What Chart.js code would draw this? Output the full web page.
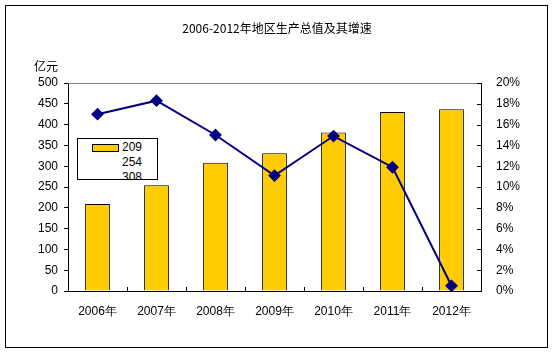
<!DOCTYPE html>
<html>
<head>
<meta charset="utf-8">
<script src="https://cdn.jsdelivr.net/npm/chart.js@4"></script>
<style>
  body { margin: 0; background: #fff; }
  #wrap { position: relative; width: 554px; height: 353px; }
  #legend {
    position: absolute; left: 77px; top: 138px; width: 79px; height: 40px;
    border: 1px solid #000; background: #fff; overflow: hidden;
    font: 12px "Liberation Sans", Arial, sans-serif; color: #000;
  }
  .row { position: absolute; left: 0; height: 15px; line-height: 15px; }
  .sw { position: absolute; left: 14px; top: 4px; width: 25px; height: 6px; background: #FFCC00; border: 1px solid #000; }
  .lb { position: absolute; left: 44px; }
</style>
</head>
<body>
<div id="wrap">
  <canvas id="grafico" width="554" height="353"></canvas>
  <div id="legend"></div>
</div>
<script>
const anos = ['2006年', '2007年', '2008年', '2009年', '2010年', '2011年', '2012年'];
const producao = [209, 254, 308, 331, 381, 430, 437];   // 亿元
const crescimento = [17.0, 18.3, 15.0, 11.1, 14.9, 11.9, 0.5]; // %

const fonte = '"Liberation Sans", Arial, sans-serif';

// legenda "quebrada" como no original: mostra os valores das barras
const legenda = document.getElementById('legend');
producao.slice(0, 3).forEach((v, i) => {
    const row = document.createElement('div');
    row.className = 'row';
    row.style.top = (i * 15 + 1) + 'px';
    row.style.width = '79px';
    row.innerHTML = (i === 0 ? '<span class="sw"></span>' : '') + '<span class="lb">' + v + '</span>';
    legenda.appendChild(row);
});

const extras = {
    id: 'extras',
    afterDraw(chart) {
        const ctx = chart.ctx;
        const a = chart.chartArea;
        ctx.save();
        // moldura externa
        ctx.strokeStyle = '#000';
        ctx.lineWidth = 1;
        ctx.strokeRect(5.5, 5.5, 542, 342);
        // linha superior cinza da área
        ctx.strokeStyle = '#808080';
        ctx.beginPath();
        ctx.moveTo(a.left, Math.round(a.top) + 0.5);
        ctx.lineTo(a.right, Math.round(a.top) + 0.5);
        ctx.stroke();
        // marcas internas: eixo x (entre categorias) e eixo da direita
        ctx.strokeStyle = '#000';
        ctx.beginPath();
        const xs = chart.scales.x;
        for (let i = 1; i < anos.length; i++) {
            const px = Math.round((xs.getPixelForValue(i - 1) + xs.getPixelForValue(i)) / 2) + 0.5;
            ctx.moveTo(px, a.bottom);
            ctx.lineTo(px, a.bottom - 4);
        }
        const y1 = chart.scales.y1;
        y1.ticks.forEach(t => {
            const py = Math.round(y1.getPixelForValue(t.value)) + 0.5;
            ctx.moveTo(a.right, py);
            ctx.lineTo(a.right - 4, py);
        });
        ctx.stroke();
        // unidade
        ctx.fillStyle = '#000';
        ctx.font = '12px "Noto Sans CJK SC", sans-serif';
        ctx.textAlign = 'center';
        ctx.textBaseline = 'middle';
        ctx.fillText('亿元', 46, 66);
        ctx.restore();
    }
};

new Chart(document.getElementById('grafico'), {
    data: {
        labels: anos,
        datasets: [
            {
                type: 'line',
                label: '增速',
                data: crescimento,
                yAxisID: 'y1',
                borderColor: '#000080',
                backgroundColor: '#000080',
                borderWidth: 2,
                pointStyle: 'rectRot',
                pointRadius: 5,
                fill: false,
                tension: 0,
                order: 0
            },
            {
                type: 'bar',
                label: '地区生产总值',
                data: producao,
                yAxisID: 'y',
                backgroundColor: '#FFCC00',
                borderColor: '#000',
                borderWidth: 1,
                categoryPercentage: 1,
                barPercentage: 0.42,
                order: 1
            }
        ]
    },
    options: {
        responsive: false,
        animation: false,
        layout: { padding: 0 },
        plugins: {
            legend: { display: false },
            tooltip: { enabled: false },
            title: {
                display: true,
                text: '2006-2012年地区生产总值及其增速',
                color: '#000',
                font: { family: '"Noto Sans CJK SC", sans-serif', size: 12, weight: 'normal' },
                padding: { top: 21, bottom: 47.6 }
            }
        },
        scales: {
            x: {
                offset: true,
                grid: { display: false },
                border: { display: true, color: '#000' },
                ticks: { color: '#000', font: { family: fonte, size: 12 }, padding: 5, maxRotation: 0 },
                afterFit: s => { s.height = 62; }
            },
            y: {
                position: 'left',
                min: 0, max: 500,
                grid: { display: true, drawOnChartArea: false, tickLength: 4, color: '#000' },
                border: { display: true, color: '#000' },
                ticks: { stepSize: 50, color: '#000', font: { family: fonte, size: 12 }, padding: 6 },
                afterFit: s => { s.width = 68; }
            },
            y1: {
                position: 'right',
                min: 0, max: 20,
                grid: { display: false },
                border: { display: true, color: '#000' },
                ticks: { stepSize: 2, color: '#000', font: { family: fonte, size: 12 }, padding: 7,
                         callback: v => v + '%' },
                afterFit: s => { s.width = 73; }
            }
        }
    },
    plugins: [extras]
});
</script>
</body>
</html>
